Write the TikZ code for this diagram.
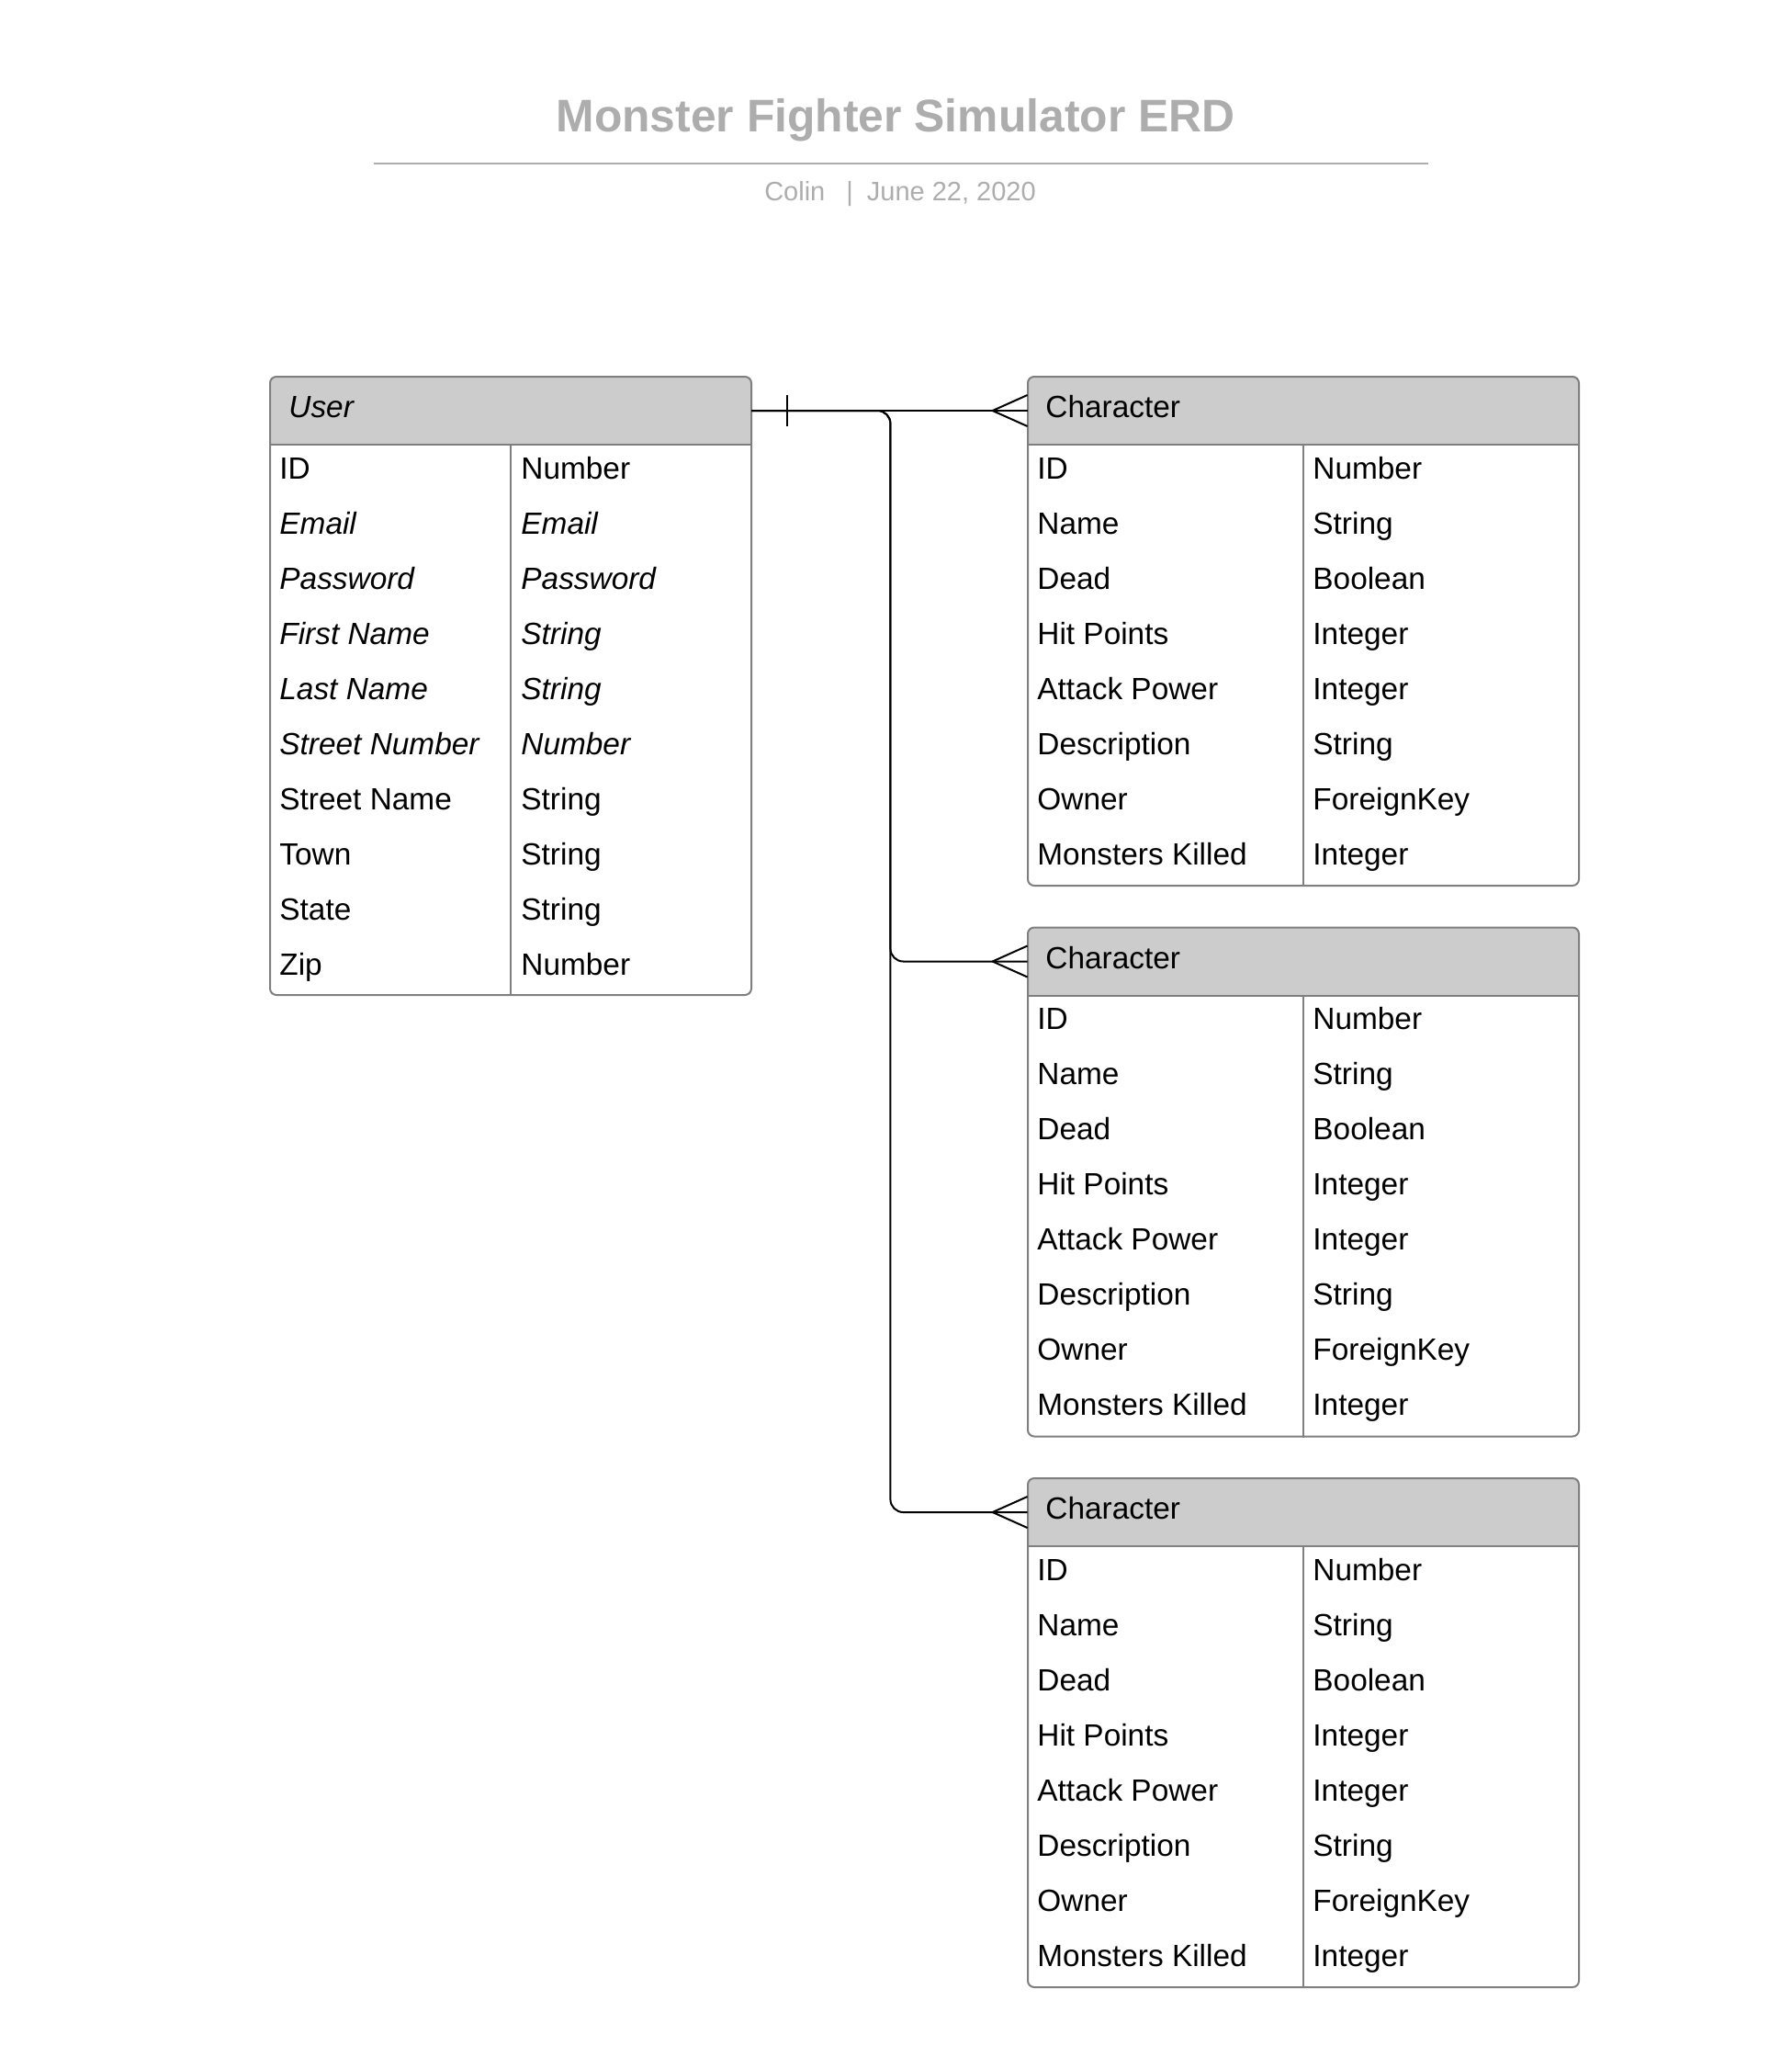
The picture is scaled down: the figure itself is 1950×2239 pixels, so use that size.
\documentclass[tikz,border=0pt]{standalone}
\usepackage{fontspec}
\setmainfont{Liberation Sans}
\usetikzlibrary{calc}

\definecolor{hdrgray}{HTML}{CCCCCC}
\definecolor{boxgray}{HTML}{7F7F7F}
\definecolor{titlegray}{HTML}{ADADAD}

\begin{document}
\begin{tikzpicture}[x=0.5pt, y=-0.5pt,
    hdr/.style = {minimum height=37pt, inner sep=0},
    body/.style = {draw=boxgray, line width=1pt, rounded corners=3.5pt, inner sep=0},
    sep/.style = {boxgray, line width=1pt},
    cell/.style = {anchor=base west, inner sep=0, font=\fontsize{16.7}{20}\selectfont},
    link/.style = {line width=1pt, rounded corners=7pt}]

\useasboundingbox (0,0) rectangle (1950,2239);

% title block
\node[font=\fontsize{24.9}{30}\selectfont\bfseries, text=titlegray] (title) at (975,131) {Monster Fighter Simulator ERD};
\draw[titlegray, line width=1pt] (407,178) -- (1555,178);
\node[font=\fontsize{14.5}{18}\selectfont, text=titlegray] (byline) at (980,211) {Colin\hspace{11.5pt}|\hspace{7.5pt}June 22, 2020};

% user table
\node[hdr, minimum width=262pt] (userhead) at (556,447) {};
\fill[hdrgray] (userhead.south west) [rounded corners=3.5pt] -- (userhead.north west) -- (userhead.north east) [sharp corners] -- (userhead.south east) -- cycle;
\node[body, minimum width=262pt, minimum height=336.5pt] (user) at (556,746.5) {};
\draw[sep] (userhead.south west) -- (userhead.south east);
\draw[sep] (userhead.south) -- (user.south);
\node[cell, font=\fontsize{16.7}{20}\selectfont\itshape] (usertitle) at (314,454.5) {User};
\foreach \k/\t [count=\i from 0] in {ID/Number, \textit{Email}/\textit{Email}, \textit{Password}/\textit{Password},
    \textit{First Name}/\textit{String}, \textit{Last Name}/\textit{String}, \textit{Street Number}/\textit{Number},
    Street Name/String, Town/String, State/String, Zip/Number} {
  \node[cell] (user-key\i) at (304,{521+60*\i}) {\k};
  \node[cell] (user-type\i) at (567,{521+60*\i}) {\t};
}

% character tables
\foreach \ty [count=\n] in {410,1009.5,1609} {
  \node[hdr, minimum width=300pt] (charhead\n) at (1419,{\ty+37}) {};
  \fill[hdrgray] (charhead\n.south west) [rounded corners=3.5pt] -- (charhead\n.north west) -- (charhead\n.north east) [sharp corners] -- (charhead\n.south east) -- cycle;
  \node[body, minimum width=300pt, minimum height=277pt] (char\n) at (1419,{\ty+277}) {};
  \draw[sep] (charhead\n.south west) -- (charhead\n.south east);
  \draw[sep] (charhead\n.south) -- (char\n.south);
  \node[cell] (chartitle\n) at (1138,{\ty+44.5}) {Character};
  \foreach \k/\t [count=\i from 0] in {ID/Number, Name/String, Dead/Boolean, Hit Points/Integer,
      Attack Power/Integer, Description/String, Owner/ForeignKey, Monsters Killed/Integer} {
    \node[cell] (char\n-key\i) at (1129,{\ty+111+60*\i}) {\k};
    \node[cell] (char\n-type\i) at (1429,{\ty+111+60*\i}) {\t};
  }
  % crow's foot
  \draw[link] ($(charhead\n.west)+(-38,0)$) -- ($(charhead\n.west)+(0,-17)$);
  \draw[link] ($(charhead\n.west)+(-38,0)$) -- ($(charhead\n.west)+(0,17)$);
}

% relationships
\draw[link] (userhead.east) -- (charhead1.west);
\draw[link] (userhead.east) -- ++(151,0) |- (charhead2.west);
\draw[link] (userhead.east) -- ++(151,0) |- (charhead3.west);
\draw[link] ($(userhead.east)+(39,-17)$) -- ($(userhead.east)+(39,17)$);
\end{tikzpicture}
\end{document}
